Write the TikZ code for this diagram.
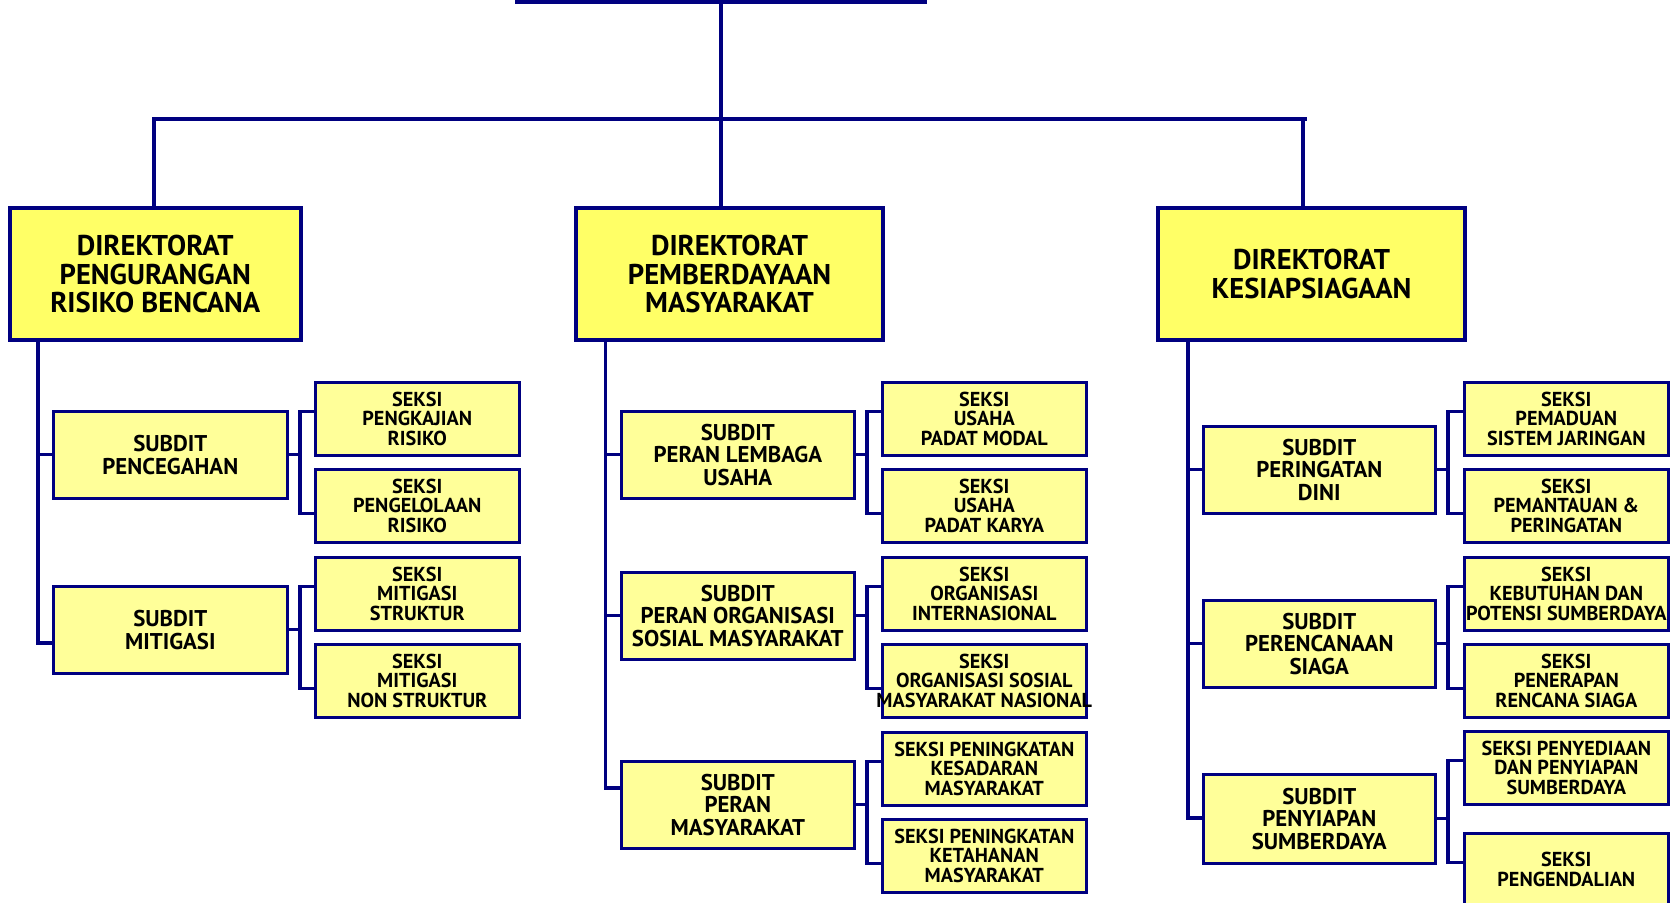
\documentclass[tikz,border=0pt]{standalone}
\usepackage{fontspec}
\newfontfamily\orgfont{PT Sans}
\definecolor{navy}{RGB}{0,0,128}
\definecolor{diryellow}{RGB}{255,255,102}
\definecolor{subyellow}{RGB}{255,255,153}
\newcommand\orgbracket[6]{%
  \coordinate (#2t) at ([yshift=#5]#2.west);
  \coordinate (#3t) at ([yshift=#6]#3.west);
  \draw[conn] (#1.east) -- (#1.east -| #4);
  \draw[conn] (#2t) -- (#2t -| #4) -- (#3t -| #4) -- (#3t);
}
\begin{document}
\begin{tikzpicture}[x=0.5pt,y=-0.5pt,
  dirbox/.style={draw=navy, line width=2pt, fill=diryellow, inner sep=0pt, align=center, anchor=north west, minimum height=66pt,
    font=\orgfont\bfseries\fontsize{14.3}{14.2}\selectfont},
  subbox/.style={draw=navy, line width=1.3pt, fill=subyellow, inner sep=0pt, align=center, anchor=north west, minimum height=43.5pt,
    font=\orgfont\bfseries\fontsize{11.4}{11.35}\selectfont},
  sekbox/.style={draw=navy, line width=1.3pt, fill=subyellow, inner sep=0pt, align=center, anchor=north west, minimum height=36.5pt,
    minimum width=102pt, font=\orgfont\bfseries\fontsize{10.1}{9.9}\selectfont},
  conn/.style={draw=navy, line width=1.6pt}]
\useasboundingbox (0,0) rectangle (1674,903);
\clip (0,0) rectangle (1674,903);
% top
\node[dirbox, anchor=south, minimum width=204pt, minimum height=40pt] (top) at (721,4) {};
% directorates
\node[dirbox, minimum width=145.75pt] (D1) at (7.5,206) {DIREKTORAT\\PENGURANGAN\\RISIKO BENCANA};
\node[dirbox, minimum width=153.5pt] (D2) at (574,206) {DIREKTORAT\\PEMBERDAYAAN\\MASYARAKAT};
\node[dirbox, minimum width=153.5pt] (D3) at (1156,206) {DIREKTORAT\\KESIAPSIAGAAN};
% subdit
\node[subbox, minimum width=117pt] (sc1a) at (52,410) {SUBDIT\\PENCEGAHAN};
\node[subbox, minimum width=117pt] (sc1b) at (52,585) {SUBDIT\\MITIGASI};
\node[subbox, minimum width=116.5pt] (sc2a) at (620,410) {SUBDIT\\PERAN LEMBAGA\\USAHA};
\node[subbox, minimum width=116.5pt] (sc2b) at (620,571) {SUBDIT\\PERAN ORGANISASI\\SOSIAL MASYARAKAT};
\node[subbox, minimum width=116.5pt] (sc2c) at (620,760) {SUBDIT\\PERAN\\MASYARAKAT};
\node[subbox, minimum width=116pt] (sc3a) at (1202,425) {SUBDIT\\PERINGATAN\\DINI};
\node[subbox, minimum width=116pt] (sc3b) at (1202,599) {SUBDIT\\PERENCANAAN\\SIAGA};
\node[subbox, minimum width=116pt, minimum height=44.5pt] (sc3c) at (1202,773) {SUBDIT\\PENYIAPAN\\SUMBERDAYA};
% seksi col1
\node[sekbox] (se1a) at (314,381) {SEKSI\\PENGKAJIAN\\RISIKO};
\node[sekbox] (se1b) at (314,468) {SEKSI\\PENGELOLAAN\\RISIKO};
\node[sekbox] (se1c) at (314,556) {SEKSI\\MITIGASI\\STRUKTUR};
\node[sekbox] (se1d) at (314,643) {SEKSI\\MITIGASI\\NON STRUKTUR};
% seksi col2
\node[sekbox] (se2a) at (881,381) {SEKSI\\USAHA\\PADAT MODAL};
\node[sekbox] (se2b) at (881,468) {SEKSI\\USAHA\\PADAT KARYA};
\node[sekbox] (se2c) at (881,556) {SEKSI\\ORGANISASI\\INTERNASIONAL};
\node[sekbox] (se2d) at (881,643) {SEKSI\\ORGANISASI SOSIAL\\\makebox[0pt]{MASYARAKAT NASIONAL}};
\node[sekbox] (se2e) at (881,731) {SEKSI PENINGKATAN\\KESADARAN\\MASYARAKAT};
\node[sekbox] (se2f) at (881,818) {SEKSI PENINGKATAN\\KETAHANAN\\MASYARAKAT};
% seksi col3
\node[sekbox] (se3a) at (1463,381) {SEKSI\\PEMADUAN\\SISTEM JARINGAN};
\node[sekbox] (se3b) at (1463,468) {SEKSI\\PEMANTAUAN \&\\PERINGATAN};
\node[sekbox] (se3c) at (1463,556) {SEKSI\\KEBUTUHAN DAN\\\makebox[0pt]{POTENSI SUMBERDAYA}};
\node[sekbox] (se3d) at (1463,643) {SEKSI\\PENERAPAN\\RENCANA SIAGA};
\node[sekbox] (se3e) at (1463,730) {SEKSI PENYEDIAAN\\DAN PENYIAPAN\\SUMBERDAYA};
\node[sekbox] (se3f) at (1463,832) {SEKSI\\PENGENDALIAN};
% top connectors
\coordinate (hl) at (154,119);
\coordinate (hr) at (1303,119);
\draw[conn] (top.south) -- (top.south |- D2.north);
\draw[conn] (D1.north -| hl) -- (hl) -- ([xshift=2pt]hr);
\draw[conn] (hr) -- (D3.north -| hr);
% spines
\coordinate (b1) at (38,643);
\draw[conn] (D1.south -| b1) -- (b1) -- (b1 -| sc1b.west);
\draw[conn] (b1 |- sc1a.west) -- (sc1a.west);
\coordinate (b2) at (605.5,788);
\draw[conn] (D2.south -| b2) -- (b2) -- (b2 -| sc2c.west);
\draw[conn] (b2 |- sc2a.west) -- (sc2a.west);
\draw[conn] (b2 |- sc2b.west) -- (sc2b.west);
\coordinate (b3) at (1188,818);
\draw[conn] (D3.south -| b3) -- (b3) -- (b3 -| sc3c.west);
\draw[conn] (b3 |- sc3a.west) -- (sc3a.west);
\draw[conn] (b3 |- sc3b.west) -- (sc3b.west);
% brackets
\coordinate (k1) at (300,0);
\coordinate (k2) at (867,0);
\coordinate (k3) at (1448,0);
\orgbracket{sc1a}{se1a}{se1b}{k1}{3.75pt}{-3.75pt}
\orgbracket{sc1b}{se1c}{se1d}{k1}{3.75pt}{-3.75pt}
\orgbracket{sc2a}{se2a}{se2b}{k2}{3.75pt}{-3.75pt}
\orgbracket{sc2b}{se2c}{se2d}{k2}{3.75pt}{-3.75pt}
\orgbracket{sc2c}{se2e}{se2f}{k2}{3.75pt}{-3.75pt}
\orgbracket{sc3a}{se3a}{se3b}{k3}{3.75pt}{-3.75pt}
\orgbracket{sc3b}{se3c}{se3d}{k3}{3.75pt}{-3.75pt}
\orgbracket{sc3c}{se3e}{se3f}{k3}{3.75pt}{3.5pt}
\end{tikzpicture}
\end{document}
